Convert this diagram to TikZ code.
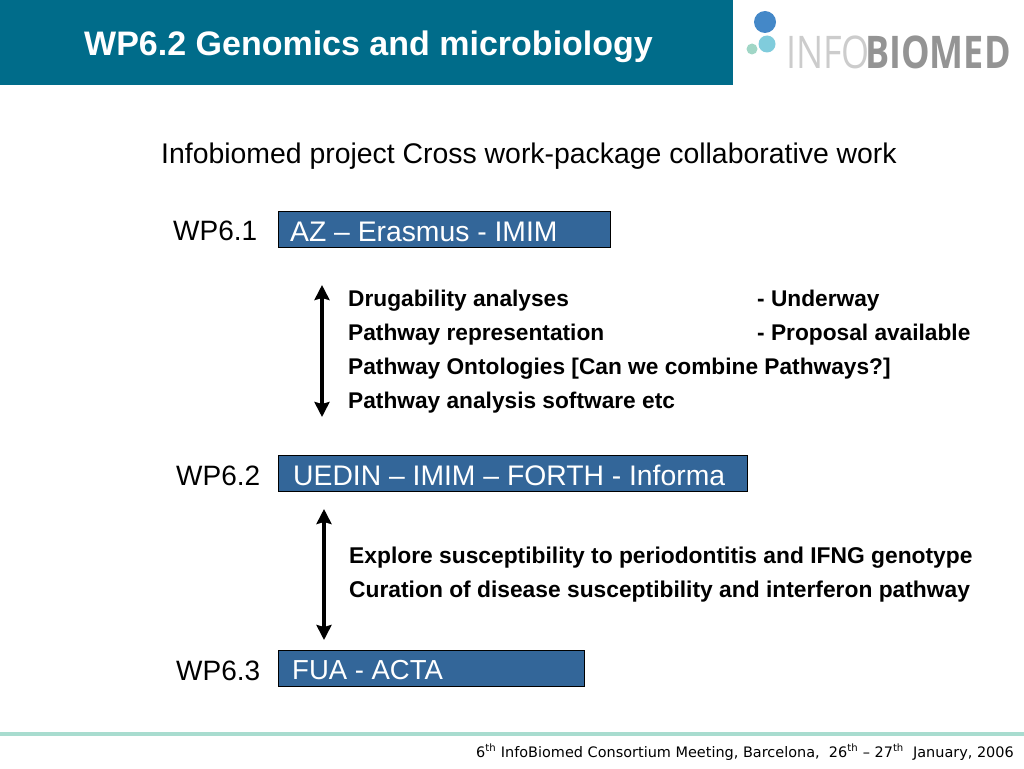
\documentclass[tikz,border=0pt]{standalone}
\usepackage{fontspec}
\setmainfont{Liberation Sans}
\newfontfamily\footfont{DejaVu Sans}
\newfontfamily\logofont[FakeStretch=0.8]{Open Sans}
\usetikzlibrary{arrows.meta}
\definecolor{titleteal}{HTML}{006C8A}
\definecolor{boxblue}{HTML}{336699}
\definecolor{footline}{HTML}{A8DCCF}
\definecolor{logoblue}{HTML}{4488C8}
\definecolor{logocyan}{HTML}{80CCDC}
\definecolor{logomint}{HTML}{A0D6C6}
\tikzset{
  label/.style={anchor=base west,inner sep=0pt,font=\fontsize{28}{32}\selectfont},
  task/.style={anchor=base west,inner sep=0pt,font=\fontsize{22.7}{26}\selectfont\bfseries},
  team/.style={anchor=north west,draw=black,line width=0.8pt,fill=boxblue,minimum height=36pt,inner sep=0pt},
  teamtext/.style={anchor=base west,inner sep=0pt,text=white,font=\fontsize{28.3}{32}\selectfont},
  link/.style={{Stealth[length=15pt,width=15pt,inset=2pt]}-{Stealth[length=15pt,width=15pt,inset=2pt]},line width=3.6pt}
}
\begin{document}
\begin{tikzpicture}[x=1pt,y=-1pt]
\useasboundingbox (0,0) rectangle (1024,768);

\fill [titleteal] (0,0) rectangle (733,85);
\node (title) [anchor=base west,inner sep=0pt,text=white,font=\fontsize{34}{40}\selectfont\bfseries] at (84,55.5) {WP6.2 Genomics and microbiology};

% logo
\fill [logoblue] (765,22) circle (11);
\fill [logocyan] (767,44) circle (8.5);
\fill [logomint] (752,49) circle (5.5);
\node (logoa) [anchor=base west,inner sep=0pt,text=black!20,font=\fontsize{45}{50}\logofont] at (786,68) {INFO};
\node (logob) [anchor=base west,inner sep=0pt,text=black!42,font=\fontsize{45}{50}\logofont\bfseries] at (865,68) {BIOMED};

\node (heading) [label,font=\fontsize{28.4}{32}\selectfont] at (161,163) {Infobiomed project Cross work-package collaborative work};

\node (wpa) [label] at (173,240) {WP6.1};
\node (wpb) [label] at (176,485) {WP6.2};
\node (wpc) [label] at (176,680) {WP6.3};

\node (teama) [team,minimum width=331.5pt] at (278,210.5) {};
\node (namea) [teamtext] at (290,241) {AZ – Erasmus - IMIM};
\node (teamb) [team,minimum width=468.5pt] at (278,454.5) {};
\node (nameb) [teamtext] at (293,485) {UEDIN – IMIM – FORTH - Informa};
\node (teamc) [team,minimum width=306pt] at (278,649.5) {};
\node (namec) [teamtext,font=\fontsize{27.5}{32}\selectfont] at (292,679) {FUA - ACTA};

\coordinate (linkat) at (322,285);
\coordinate (linkab) at (322,417);
\coordinate (linkbt) at (324,509);
\coordinate (linkbb) at (324,640);
\draw [link] (linkat) -- (linkab);
\draw [link] (linkbt) -- (linkbb);

\node (taska) [task] at (348,306) {Drugability analyses};
\node (stata) [task] at (757,306) {- Underway};
\node (taskb) [task] at (348,340) {Pathway representation};
\node (statb) [task] at (757,340) {- Proposal available};
\node (taskc) [task] at (348,374) {Pathway Ontologies [Can we combine Pathways?]};
\node (taskd) [task] at (348,408) {Pathway analysis software etc};
\node (taske) [task,font=\fontsize{22.8}{26}\selectfont\bfseries] at (349,563.5) {Explore susceptibility to periodontitis and IFNG genotype};
\node (taskf) [task,font=\fontsize{22.8}{26}\selectfont\bfseries] at (349,597.5) {Curation of disease susceptibility and interferon pathway};

\draw [footline,line width=3.5pt] (0,734) -- (1024,734);
\node (foot) [anchor=base east,inner sep=0pt,font=\fontsize{14.45}{17}\footfont] at (1014,757) {6\textsuperscript{th} InfoBiomed Consortium Meeting, Barcelona,\ \ 26\textsuperscript{th} – 27\textsuperscript{th}\ \ January, 2006};
\end{tikzpicture}
\end{document}
